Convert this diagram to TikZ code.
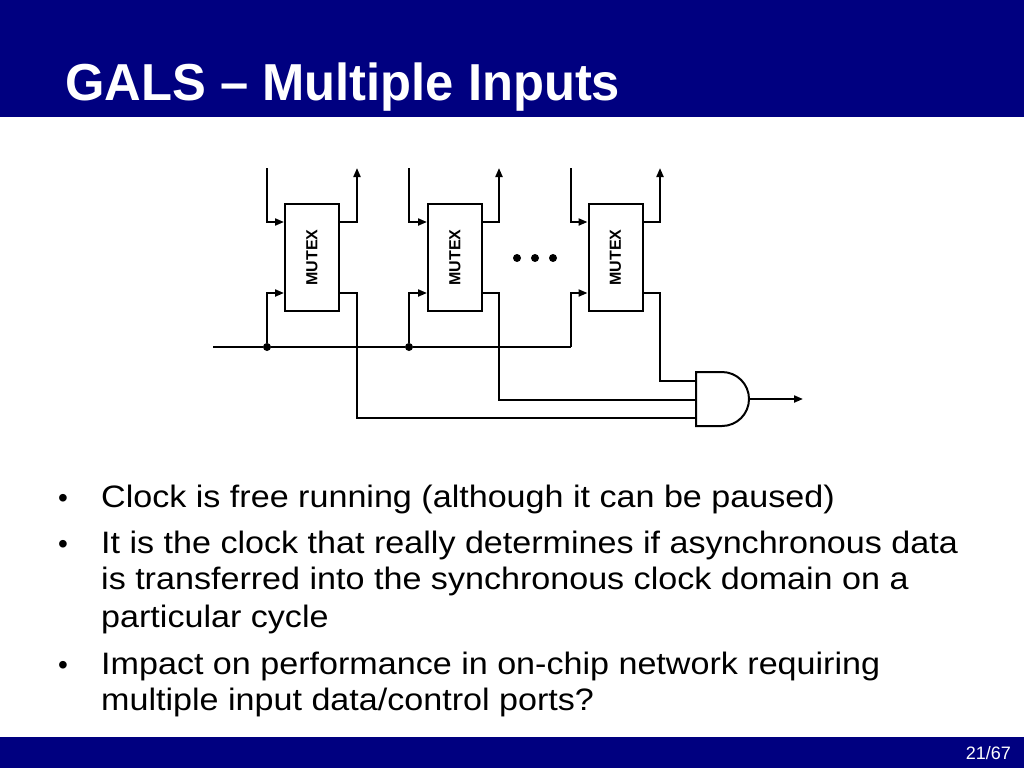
\documentclass[tikz,border=0pt]{standalone}
\usepackage{fontspec}
\setmainfont{Liberation Sans}
\newfontfamily\bodyfont[FakeStretch=1.1]{Liberation Sans}
\newfontfamily\titlefont[FakeStretch=0.975]{Liberation Sans}
\usetikzlibrary{arrows.meta}
\definecolor{navy}{RGB}{0,0,128}
\begin{document}
\begin{tikzpicture}[x=1pt,y=-1pt,
  wire/.style={line width=2pt},
  arr/.style={-{Triangle[length=9pt,width=7pt]}},
  mutex/.style={draw,line width=2pt,minimum width=54pt,minimum height=107pt,inner sep=0pt,font=\bfseries\fontsize{16}{16}\selectfont},
  jdot/.style={circle,fill,inner sep=0pt,minimum size=8pt},
  edot/.style={circle,fill,inner sep=0pt,minimum size=8pt},
  bul/.style={anchor=base west,inner sep=0pt,font=\fontsize{28}{36}\selectfont},
  btxt/.style={anchor=base west,inner sep=0pt,font=\bodyfont\fontsize{31}{36}\selectfont}]
\useasboundingbox (0,0) rectangle (1024,768);
\fill[navy] (0,0) rectangle (1024,117);
\fill[navy] (0,737) rectangle (1024,768);
\node[anchor=base west,text=white,inner sep=0pt,font=\titlefont\bfseries\fontsize{52}{60}\selectfont] (title) at (65,100) {GALS – Multiple Inputs};
\node[anchor=base east,text=white,inner sep=0pt,font=\fontsize{18}{20}\selectfont] (page) at (1011,759) {21/67};

% boxes
\node[mutex] (m1) at (312,257.5) {\rotatebox{90}{MUTEX}};
\node[mutex] (m2) at (455,257.5) {\rotatebox{90}{MUTEX}};
\node[mutex] (m3) at (615.5,257.5) {\rotatebox{90}{MUTEX}};
\coordinate (yu) at (0,222);
\coordinate (yl) at (0,293);

% ellipsis dots
\node[edot] (e1) at (517,258) {};
\node[edot] (e2) at (535,258) {};
\node[edot] (e3) at (553,258) {};

% top inputs and outputs
\coordinate (i1) at (267,168);
\coordinate (i2) at (409,168);
\coordinate (i3) at (571,168);
\coordinate (o1) at (357,168);
\coordinate (o2) at (499,168);
\coordinate (o3) at (660,168);
\draw[wire,arr] (i1) |- (m1.west |- yu);
\draw[wire,arr] (i2) |- (m2.west |- yu);
\draw[wire,arr] (i3) |- (m3.west |- yu);
\draw[wire,arr] (m1.east |- yu) -| (o1);
\draw[wire,arr] (m2.east |- yu) -| (o2);
\draw[wire,arr] (m3.east |- yu) -| (o3);

% clock
\coordinate (clk) at (213,347);
\node[jdot] (d1) at (267,347) {};
\node[jdot] (d2) at (409,347) {};
\coordinate (c3) at (571,347);
\draw[wire] (clk) -- (d1) -- (d2) -- (c3);
\draw[wire,arr] (d1) |- (m1.west |- yl);
\draw[wire,arr] (d2) |- (m2.west |- yl);
\draw[wire,arr] (c3) |- (m3.west |- yl);

% AND gate
\draw[wire] (696,372) -- (722,372) arc[start angle=-90,end angle=90,radius=27] -- (696,426) -- cycle;
\coordinate (a1) at (696,381);
\coordinate (a2) at (696,400);
\coordinate (a3) at (696,418);
\coordinate (ao) at (749,399);
\coordinate (out) at (803,399);
\draw[wire] (m3.east |- yl) -| (660,381) -- (a1);
\draw[wire] (m2.east |- yl) -| (499,400) -- (a2);
\draw[wire] (m1.east |- yl) -| (357,418) -- (a3);
\draw[wire,arr] (ao) -- (out);

% bullets
\node[bul] (p1) at (58,507) {•};
\node[bul] (p2) at (58,553) {•};
\node[bul] (p3) at (58,674) {•};
\node[btxt] (t1) at (101,507) {Clock is free running (although it can be paused)};
\node[btxt] (t2) at (101,553) {It is the clock that really determines if asynchronous data};
\node[btxt] (t3) at (101,589) {is transferred into the synchronous clock domain on a};
\node[btxt] (t4) at (101,627) {particular cycle};
\node[btxt] (t5) at (101,674) {Impact on performance in on-chip network requiring};
\node[btxt] (t6) at (101,710) {multiple input data/control ports?};
\end{tikzpicture}
\end{document}
